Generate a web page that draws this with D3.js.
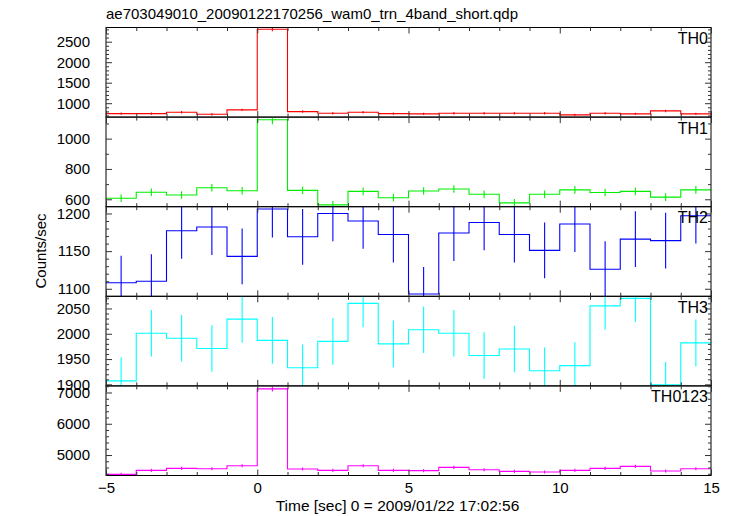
<!DOCTYPE html>
<html><head><meta charset="utf-8">
<script src="https://cdn.jsdelivr.net/npm/d3@7"></script>
<style>body{margin:0;background:#fff}svg{display:block}text{font-family:"Liberation Sans",Arial,sans-serif}</style>
</head><body><div id="chart"></div>
<script>
const title = "ae703049010_20090122170256_wam0_trn_4band_short.qdp";
const xLabel = "Time [sec] 0 = 2009/01/22 17:02:56";
const yLabel = "Counts/sec";
const binStarts = [-5,-4,-3,-2,-1,0,1,2,3,4,5,6,7,8,9,10,11,12,13,14];
const binWidth = 1;
const xTicks = [-5,0,5,10,15];
const panelNames = ["TH0","TH1","TH2","TH3","TH0123"];
const colors = ["#ff0000","#00ee00","#0000ff","#00ffff","#ff00ff"];
const th0 = [746,746,780,732,837,2802,795,756,780,746,740,756,756,756,756,715,756,740,812,740];
const th0Err = [30,30,30,30,30,45,30,30,30,30,30,30,30,30,30,30,30,30,30,30];
const th1 = [607,646,628,676,656,1125,659,563,652,610,655,668,633,576,633,662,645,652,614,662];
const th1Err = [25,25,25,25,25,30,25,25,25,25,25,25,25,25,25,25,25,25,25,25];
const th2 = [1108,1110,1177,1182,1143,1206,1169,1200,1190,1172,1093,1174,1188,1172,1151,1186,1126,1166,1164,1197];
const th2Err = [36,36,37,37,37,38,37,37,37,37,36,37,37,37,37,37,37,37,37,37];
const th3 = [1907,2001,1991,1971,2029,1987,1933,1985,2060,1980,2008,2001,1957,1970,1927,1937,2055,2070,1899,1982];
const th3Err = [46,46,46,46,47,46,46,46,47,46,46,46,46,46,46,46,47,47,45,46];
const th0123 = [4382,4510,4574,4562,4658,7115,4552,4510,4658,4510,4500,4606,4530,4478,4456,4510,4574,4638,4490,4562];
const th0123Err = [50,50,50,50,50,80,50,50,50,50,50,50,50,50,50,50,50,50,50,50];
const yDomains = [[661,2846],[551,1142],[1090,1209],[1897,2074],[4345,7211]];
const yMajor = [[1000,1500,2000,2500],[600,800,1000],[1100,1150,1200],[1900,1950,2000,2050],[5000,6000,7000]];
const yMinorStep = [100,100,10,10,200];

const series = [th0,th1,th2,th3,th0123];
const errs = [th0Err,th1Err,th2Err,th3Err,th0123Err];

const W = 733, H = 516;
const mLeft = 106, mRight = 711, mTop = 27.5, panelH = 89.6;
const svg = d3.select("#chart").append("svg").attr("width",W).attr("height",H);
const x = d3.scaleLinear().domain([-5,15]).range([mLeft,mRight]);

svg.append("text").attr("x",mLeft).attr("y",19).attr("font-size",15).text(title);

panelNames.forEach((name,i)=>{
  const y0 = mTop + i*panelH, y1 = y0 + panelH;
  const y = d3.scaleLinear().domain(yDomains[i]).range([y1,y0]);
  const g = svg.append("g");
  const cid = "clip"+i;
  svg.append("clipPath").attr("id",cid).append("rect").attr("x",mLeft).attr("y",y0).attr("width",mRight-mLeft).attr("height",panelH);
  const data = series[i].map((v,k)=>({x0:binStarts[k],x1:binStarts[k]+binWidth,v:v,e:errs[i][k]}));
  const pts = [];
  data.forEach(d=>{pts.push([d.x0,d.v]);pts.push([d.x1,d.v]);});
  const line = d3.line().x(p=>x(p[0])).y(p=>y(p[1]));
  const cg = g.append("g").attr("clip-path",`url(#${cid})`);
  cg.append("path").attr("d",line(pts)).attr("fill","none").attr("stroke",colors[i]).attr("stroke-width",1.1);
  cg.selectAll("line.err").data(data).enter().append("line")
    .attr("x1",d=>x((d.x0+d.x1)/2)).attr("x2",d=>x((d.x0+d.x1)/2))
    .attr("y1",d=>y(d.v-d.e)).attr("y2",d=>y(d.v+d.e))
    .attr("stroke",colors[i]).attr("stroke-width",1.1);
  g.append("rect").attr("x",mLeft).attr("y",y0).attr("width",mRight-mLeft).attr("height",panelH)
    .attr("fill","none").attr("stroke","#000").attr("stroke-width",1);
  const minor = d3.range(Math.ceil(yDomains[i][0]/yMinorStep[i])*yMinorStep[i], yDomains[i][1], yMinorStep[i])
     .filter(v=>!yMajor[i].includes(v));
  const axL = d3.axisLeft(y).tickValues(yMajor[i]).tickSize(-6).tickPadding(16).tickFormat(d3.format("d"));
  const gl = g.append("g").attr("transform",`translate(${mLeft},0)`).call(axL);
  gl.select(".domain").remove();
  gl.selectAll("text").attr("font-size",15).attr("font-family","Liberation Sans, Arial, sans-serif").attr("fill","#000");
  gl.selectAll("line").attr("stroke","#333");
  const gml = g.append("g").attr("transform",`translate(${mLeft},0)`).call(d3.axisLeft(y).tickValues(minor).tickSize(-3).tickFormat(""));
  gml.select(".domain").remove(); gml.selectAll("line").attr("stroke","#333");
  const gr = g.append("g").attr("transform",`translate(${mRight},0)`).call(d3.axisRight(y).tickValues(yMajor[i]).tickSize(-6).tickFormat(""));
  gr.select(".domain").remove(); gr.selectAll("line").attr("stroke","#333");
  const gmr = g.append("g").attr("transform",`translate(${mRight},0)`).call(d3.axisRight(y).tickValues(minor).tickSize(-3).tickFormat(""));
  gmr.select(".domain").remove(); gmr.selectAll("line").attr("stroke","#333");
  const xMinor = d3.range(-4,15).filter(v=>!xTicks.includes(v));
  [[y0,d3.axisTop],[y1,d3.axisBottom]].forEach(([yy,ax])=>{
    const a = g.append("g").attr("transform",`translate(0,${yy})`).call(ax(x).tickValues(xTicks).tickSize(-6).tickFormat(""));
    a.select(".domain").remove(); a.selectAll("line").attr("stroke","#333");
    const b = g.append("g").attr("transform",`translate(0,${yy})`).call(ax(x).tickValues(xMinor).tickSize(-3.5).tickFormat(""));
    b.select(".domain").remove(); b.selectAll("line").attr("stroke","#333");
  });
  g.append("text").attr("x",mRight-3).attr("y",y0+16.5).attr("text-anchor","end").attr("font-size",16).text(name);
  if(i===4){
    const xa = g.append("g").attr("transform",`translate(0,${y1})`).call(d3.axisBottom(x).tickValues(xTicks).tickSize(0).tickPadding(7).tickFormat(d=>d<0?"\u2212"+Math.abs(d):d));
    xa.select(".domain").remove();
    xa.selectAll("text").attr("font-size",15).attr("font-family","Liberation Sans, Arial, sans-serif").attr("fill","#000");
  }
});
svg.append("text").attr("x",397.5).attr("y",511).attr("text-anchor","middle").attr("font-size",15.5).text(xLabel);
svg.append("text").attr("transform",`translate(46,251) rotate(-90)`).attr("text-anchor","middle").attr("font-size",15).text(yLabel);
</script></body></html>
